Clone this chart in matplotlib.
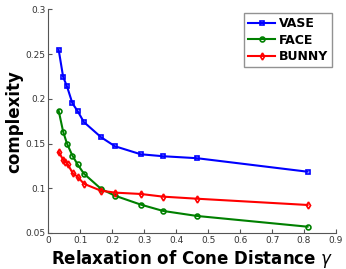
import matplotlib
matplotlib.use("Agg")
import matplotlib.pyplot as plt

# data
gamma = [0.032, 0.046, 0.058, 0.075, 0.091, 0.111, 0.165, 0.208, 0.289, 0.359, 0.465, 0.811]
vase = [0.255, 0.2245, 0.214, 0.195, 0.1865, 0.174, 0.157, 0.147, 0.138, 0.1358, 0.1336, 0.1185]
face = [0.1868, 0.1633, 0.150, 0.1365, 0.1268, 0.1163, 0.0992, 0.0917, 0.0817, 0.0746, 0.0690, 0.0570]
gamma_b = [0.032, 0.046, 0.053, 0.060, 0.076, 0.091, 0.111, 0.164, 0.209, 0.289, 0.359, 0.465, 0.811]
bunny = [0.141, 0.1317, 0.1294, 0.1272, 0.1168, 0.113, 0.105, 0.0973, 0.0951, 0.0936, 0.0906, 0.0883, 0.0813]

fig = plt.figure(figsize=(3.46, 2.69), dpi=100)
ax = fig.add_axes([0.140, 0.134, 0.831, 0.831])

ax.plot(gamma, vase, '-s', color='blue', lw=1.5, ms=3.5, mfc='none', mew=1.2, label='VASE')
ax.plot(gamma, face, '-o', color='green', lw=1.5, ms=3.5, mfc='none', mew=1.2, label='FACE')
ax.plot(gamma_b, bunny, '-d', color='red', lw=1.5, ms=3.5, mfc='none', mew=1.2, label='BUNNY')

ax.set_xlim(0, 0.9)
ax.set_ylim(0.05, 0.3)
ax.set_xticks([0, 0.1, 0.2, 0.3, 0.4, 0.5, 0.6, 0.7, 0.8, 0.9])
ax.set_xticklabels(['0', '0.1', '0.2', '0.3', '0.4', '0.5', '0.6', '0.7', '0.8', '0.9'])
ax.set_yticks([0.05, 0.1, 0.15, 0.2, 0.25, 0.3])
ax.set_yticklabels(['0.05', '0.1', '0.15', '0.2', '0.25', '0.3'])
ax.tick_params(direction='in', labelsize=6.5, labelcolor='#333333', length=3, color='#555555', pad=2)
ax.spines['top'].set_visible(False)
ax.spines['right'].set_visible(False)
ax.spines['left'].set_color('#555555')
ax.spines['bottom'].set_color('#555555')

ax.set_xlabel(r'Relaxation of Cone Distance $\gamma$', fontsize=12, fontweight='bold', labelpad=2)
ax.set_ylabel('complexity', fontsize=12, fontweight='bold', labelpad=2)

leg = ax.legend(loc='upper right', bbox_to_anchor=(1.0, 1.0), prop={'weight': 'bold', 'size': 9},
                fancybox=False, edgecolor='#777777', handlelength=2.2, handletextpad=0.3,
                borderpad=0.3, labelspacing=0.3, borderaxespad=0.3)
leg.get_frame().set_linewidth(1.0)

plt.savefig('out.png', dpi=100)
